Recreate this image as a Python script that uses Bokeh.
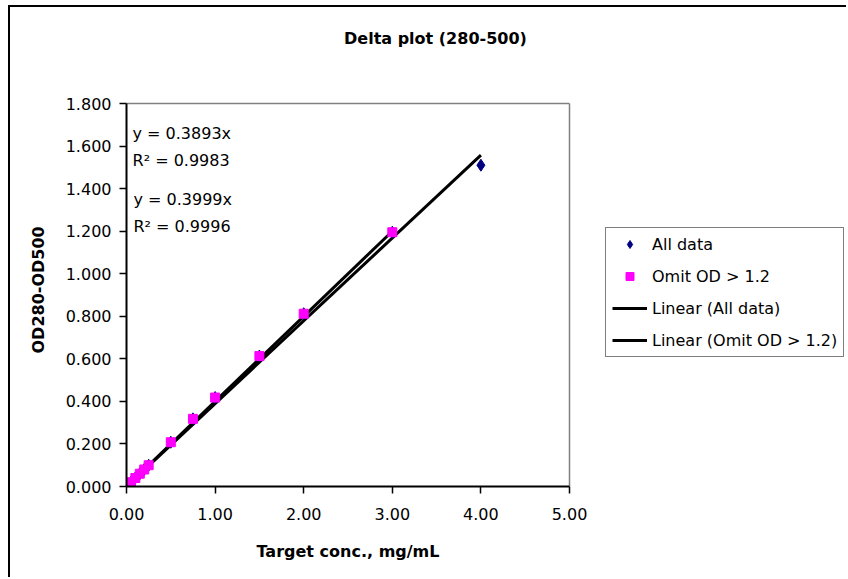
from bokeh.plotting import figure
from bokeh.models import (FixedTicker, NumeralTickFormatter, Label, Legend, LegendItem, Range1d, Title)
from bokeh.embed import file_html
from bokeh.resources import INLINE

# ---- data ----
x_all = [0.0, 0.05, 0.10, 0.15, 0.20, 0.25, 0.50, 0.75, 1.00, 1.50, 2.00, 3.00, 4.00]
y_all = [0.000, 0.020, 0.040, 0.060, 0.080, 0.100, 0.208, 0.318, 0.418, 0.613, 0.812, 1.195, 1.510]
x_omit = [0.0, 0.05, 0.10, 0.15, 0.20, 0.25, 0.50, 0.75, 1.00, 1.50, 2.00, 3.00]
y_omit = [0.000, 0.020, 0.040, 0.060, 0.080, 0.100, 0.208, 0.318, 0.418, 0.613, 0.812, 1.195]
slope_all = 0.3893
r2_all = 0.9983
slope_omit = 0.3999
r2_omit = 0.9996
x_ticks = [0, 1, 2, 3, 4, 5]
y_ticks = [0.0, 0.2, 0.4, 0.6, 0.8, 1.0, 1.2, 1.4, 1.6, 1.8]
x_lim = (0, 5)
y_lim = (0, 1.8)
title_text = "Delta plot (280-500)"
x_title = "Target conc., mg/mL"
y_title = "OD280-OD500"
series_names = ["All data", "Omit OD > 1.2", "Linear (All data)", "Linear (Omit OD > 1.2)"]

FONT = "DejaVu Sans"

# layout (pixels): plot area 443 x 383, drawing frame extended to hold title and legend
CW, CH = 838, 572
LEFT, BOTTOM = 116, 93
PLOT_W, PLOT_H = 443, 383
frame_w = CW - LEFT
frame_h = CH - BOTTOM
x_view_end = x_lim[1] * frame_w / PLOT_W
y_view_end = y_lim[1] * frame_h / PLOT_H

p = figure(width=CW, height=CH, output_backend="svg", toolbar_location=None,
           x_range=Range1d(0, x_view_end), y_range=Range1d(0, y_view_end),
           min_border_left=LEFT, min_border_right=0, min_border_top=0, min_border_bottom=BOTTOM,
           background_fill_color="white", border_fill_color="white")
p.styles = {"margin-left": "8px", "margin-top": "5px",
            "border-left": "2px solid black", "border-top": "2px solid black"}

p.xgrid.visible = False
p.ygrid.visible = False
p.outline_line_color = None

for ax in (p.xaxis[0], p.yaxis[0]):
    ax.axis_line_color = "black"
    ax.axis_line_width = 2
    ax.major_tick_line_color = "black"
    ax.major_tick_line_width = 1.5
    ax.major_tick_out = 7
    ax.major_tick_in = 0
    ax.minor_tick_line_color = None
    ax.major_label_text_font = FONT
    ax.major_label_text_font_size = "16px"
    ax.major_label_text_color = "black"

p.xaxis.bounds = x_lim
p.yaxis.bounds = y_lim
p.xaxis.ticker = FixedTicker(ticks=x_ticks)
p.yaxis.ticker = FixedTicker(ticks=y_ticks)
p.xaxis.formatter = NumeralTickFormatter(format="0.00")
p.yaxis.formatter = NumeralTickFormatter(format="0.000")
p.xaxis.major_label_standoff = 14
p.yaxis.major_label_standoff = 8

# axis titles, positioned along the plot area (not the whole drawing frame)
xt = Title(text=x_title, align="left", offset=130, standoff=35, text_font=FONT,
           text_font_size="16px", text_font_style="bold", text_color="black")
p.add_layout(xt, "below")
yt = Title(text=y_title, align="left", offset=133, standoff=30, text_font=FONT,
           text_font_size="16px", text_font_style="bold", text_color="black")
p.add_layout(yt, "left")

# grey plot-area border (top and right)
p.line([x_lim[0], x_lim[1]], [y_lim[1], y_lim[1]], line_color="#808080", line_width=1.5)
p.line([x_lim[1], x_lim[1]], [y_lim[0], y_lim[1]], line_color="#808080", line_width=1.5)

# trendlines through origin
x_end_all = max(x_all)
x_end_omit = max(x_omit)
l1 = p.line([0, x_end_all], [0, slope_all * x_end_all], line_color="black", line_width=3)
l2 = p.line([0, x_end_omit], [0, slope_omit * x_end_omit], line_color="black", line_width=3)

s1 = p.scatter(x_all, y_all, marker="diamond", size=12,
               fill_color="#000080", line_color="#000080")
s2 = p.scatter(x_omit, y_omit, marker="square", size=9, fill_color="#FF00FF", line_color="#FF00FF")

legend = Legend(items=[LegendItem(label=series_names[0], renderers=[s1]),
                       LegendItem(label=series_names[1], renderers=[s2]),
                       LegendItem(label=series_names[2], renderers=[l1]),
                       LegendItem(label=series_names[3], renderers=[l2])],
                location=(479, 129), orientation="vertical",
                label_text_font=FONT, label_text_font_size="16px", label_text_color="black",
                glyph_width=35, glyph_height=20, spacing=12, padding=6, margin=0,
                label_standoff=5, border_line_color="black", border_line_width=1.5,
                background_fill_color="white", background_fill_alpha=1)
p.add_layout(legend, "center")

# equation labels
eq_lines = [("y = %.4fx" % slope_all, 0.068, 1.657),
            ("R\u00b2 = %.4f" % r2_all, 0.068, 1.531),
            ("y = %.4fx" % slope_omit, 0.079, 1.348),
            ("R\u00b2 = %.4f" % r2_omit, 0.079, 1.221)]
for txt, xx, yy in eq_lines:
    p.add_layout(Label(x=xx, y=yy, text=txt, text_font=FONT, text_font_size="16px",
                       text_color="black", text_baseline="middle", text_align="left"))

# chart title
p.add_layout(Label(x=3.487, y=2.105, text=title_text, text_font=FONT, text_font_size="16px",
                   text_font_style="bold", text_color="black",
                   text_align="center", text_baseline="middle"))

open("out.html", "w").write(file_html(p, INLINE))
